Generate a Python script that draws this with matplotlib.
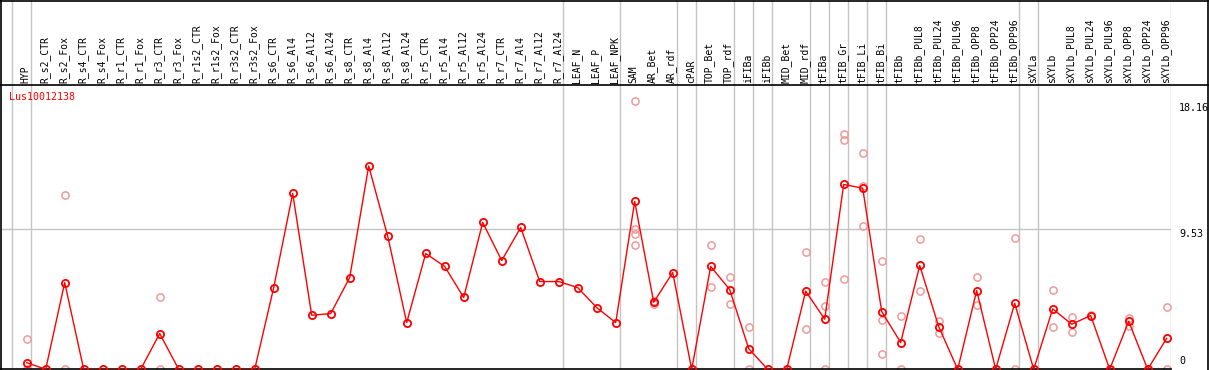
import matplotlib
matplotlib.use("Agg")
import matplotlib.pyplot as plt

# ---------------- data ----------------
gene = "Lus10012138"
categories = [
    "HYP", "R_s2_CTR", "R_s2_Fox", "R_s4_CTR", "R_s4_Fox", "R_r1_CTR", "R_r1_Fox",
    "R_r3_CTR", "R_r3_Fox", "R_r1s2_CTR", "R_r1s2_Fox", "R_r3s2_CTR", "R_r3s2_Fox",
    "R_s6_CTR", "R_s6_Al4", "R_s6_Al12", "R_s6_Al24", "R_s8_CTR", "R_s8_Al4",
    "R_s8_Al12", "R_s8_Al24", "R_r5_CTR", "R_r5_Al4", "R_r5_Al12", "R_r5_Al24",
    "R_r7_CTR", "R_r7_Al4", "R_r7_Al12", "R_r7_Al24", "LEAF_N", "LEAF_P", "LEAF_NPK",
    "SAM", "AR_Bet", "AR_rdf", "cPAR", "TOP_Bet", "TOP_rdf", "iFIBa", "iFIBb",
    "MID_Bet", "MID_rdf", "tFIBa", "tFIB_Gr", "tFIB_Li", "tFIB_Bi", "tFIBb",
    "tFIBb_PUL8", "tFIBb_PUL24", "tFIBb_PUL96", "tFIBb_OPP8", "tFIBb_OPP24",
    "tFIBb_OPP96", "sXYLa", "sXYLb", "sXYLb_PUL8", "sXYLb_PUL24", "sXYLb_PUL96",
    "sXYLb_OPP8", "sXYLb_OPP24", "sXYLb_OPP96",
]
means = [
    0.45, 0, 5.87, 0, 0, 0, 0, 2.42, 0, 0, 0, 0, 0,
    5.53, 11.9, 3.66, 3.77, 6.21, 13.76, 9.01, 3.16,
    7.84, 6.96, 4.86, 9.94, 7.36, 9.60, 5.94, 5.94,
    5.53, 4.18, 3.16,
    11.36, 4.54, 6.55, 0, 6.96, 5.40, 1.40, 0, 0, 5.29,
    3.39, 12.51, 12.26, 3.91, 1.81,
    7.03, 2.89, 0, 5.33, 0, 4.47,
    0, 4.09, 3.05, 3.64, 0, 3.25, 0, 2.10,
]
replicates = [
    [2.08, 0], [], [11.77, 0], [], [], [], [], [4.92, 0], [], [], [], [], [],
    [], [], [], [], [], [], [], [],
    [], [], [], [], [], [], [], [],
    [], [], [],
    [18.16, 9.53, 9.13, 8.38], [4.6, 4.45], [], [], [8.38, 5.6], [6.28, 4.45],
    [2.83, 0], [], [], [7.91, 2.71],
    [5.9, 4.29, 0], [15.9, 15.5, 6.14], [14.61, 12.4, 9.67], [7.3, 3.37, 1.06], [3.64, 0],
    [8.79, 5.33], [3.3, 2.49], [], [6.28, 4.38], [], [8.92, 0],
    [], [5.4, 2.83], [3.52, 2.55], [3.7], [], [3.5, 2.96], [], [4.25, 0],
]
# index of last category of each group (separators drawn after these)
group_ends = [-1, 0, 28, 31, 34, 35, 37, 38, 39, 41, 42, 43, 44, 45, 52, 53, 60]
ytick_values = [0, 9.53, 18.16]
ytick_labels = ["0", "9.53", "18.16"]

# ---------------- layout ----------------
W, H = 1209, 370
fig = plt.figure(figsize=(W / 100, H / 100), dpi=100)
fig.patch.set_facecolor("white")

px0 = 26.7   # x pixel of first category
step = 19.0  # pixel step
ax_left_px, ax_right_px = 1.0, 1171.0
ax_top_px, ax_bot_px = 85.3, 369.3
ymax_px = 101.0

xlim = ((ax_left_px - px0) / step, (ax_right_px - px0) / step)
ytop = ytick_values[-1] * (ax_bot_px - ax_top_px) / (ax_bot_px - ymax_px)

ax = fig.add_axes([ax_left_px / W, (H - ax_bot_px) / H,
                   (ax_right_px - ax_left_px) / W, (ax_bot_px - ax_top_px) / H])
axh = fig.add_axes([ax_left_px / W, (H - ax_top_px) / H,
                    (ax_right_px - ax_left_px) / W, ax_top_px / H])
bg = fig.add_axes([0, 0, 1, 1], zorder=10)
bg.set_xlim(0, W)
bg.set_ylim(H, 0)
bg.axis("off")

mono = "DejaVu Sans Mono"
grid_c = "#c4c4c4"

for a in (ax, axh):
    a.set_facecolor("none")
    a.set_xlim(*xlim)
    a.set_xticks([])
    a.set_yticks([])
    for s in a.spines.values():
        s.set_visible(False)
    for g in group_ends:
        a.axvline(g + 4 / step, color=grid_c, lw=1.0, zorder=0)

ax.set_ylim(0, ytop)
axh.set_ylim(0, 1)
ax.axhline(ytick_values[1], color=grid_c, lw=1.0, zorder=0)
ax.spines["bottom"].set_visible(True)
ax.spines["bottom"].set_color("black")
ax.spines["bottom"].set_linewidth(1.2)

xs = list(range(len(categories)))

# replicate points
rx, ry = [], []
for i, reps in enumerate(replicates):
    for v in reps:
        rx.append(i)
        ry.append(v)
ax.plot(rx, ry, linestyle="none", marker="o", markersize=5.2, markerfacecolor="none",
        markeredgecolor="#ee9a9a", markeredgewidth=1.1, zorder=2)

# mean line
ax.plot(xs, means, color="#ff0000", lw=1.0, marker="o", markersize=5.2,
        markerfacecolor="none", markeredgecolor="#ff0000", markeredgewidth=1.3, zorder=3)

# category labels
for i, c in enumerate(categories):
    axh.text(i - 1 / step, 0.025, c, rotation=90, ha="center", va="bottom",
             fontsize=7, family=mono, color="black")

# y labels on the right
offsets = {0: (0, 3, "bottom"), 1: (0, 0, "top"), 2: (0, -2, "top")}
for k, (v, lab) in enumerate(zip(ytick_values, ytick_labels)):
    dx, dy, va = offsets[k]
    ax.annotate(lab, xy=(1.0, v), xycoords=ax.get_yaxis_transform(),
                xytext=(8, dy), textcoords="offset pixels", ha="left", va=va,
                fontsize=7.2, family=mono, color="black", annotation_clip=False)

# gene name
fig.text(9 / W, 1 - 92 / H, gene, ha="left", va="top", fontsize=7.2,
         family=mono, color="#ff0000")

# frame lines
bg.plot([1, 1], [0, H], color="black", lw=1.2)
bg.plot([0, W - 1.5], [0.6, 0.6], color="black", lw=1.2)
bg.plot([W - 1.5, W - 1.5], [0, H], color="black", lw=1.2)
bg.plot([0, W - 1.5], [ax_top_px, ax_top_px], color="black", lw=1.2)

fig.savefig("out.png", dpi=100)
